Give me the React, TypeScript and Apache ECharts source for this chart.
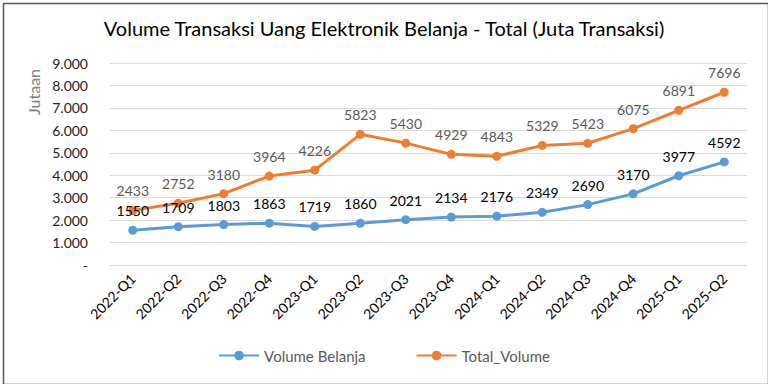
import React, { useEffect, useRef } from "react";
import * as echarts from "echarts";

const categories = ["2022-Q1","2022-Q2","2022-Q3","2022-Q4","2023-Q1","2023-Q2","2023-Q3","2023-Q4","2024-Q1","2024-Q2","2024-Q3","2024-Q4","2025-Q1","2025-Q2"];
const volumeBelanja = [1550,1709,1803,1863,1719,1860,2021,2134,2176,2349,2690,3170,3977,4592];
const totalVolume = [2433,2752,3180,3964,4226,5823,5430,4929,4843,5329,5423,6075,6891,7696];

const FONT = "Lato, 'Open Sans', sans-serif";

export default function App() {
  const ref = useRef<HTMLDivElement>(null);
  useEffect(() => {
    document.body.style.margin = "0";
    const chart = echarts.init(ref.current!, null, { renderer: "svg" });
    chart.setOption({
      animation: false,
      backgroundColor: "#fff",
      textStyle: { fontFamily: FONT },
      title: {
        text: "Volume Transaksi Uang Elektronik Belanja - Total (Juta Transaksi)",
        left: "center",
        top: 13,
        textStyle: { fontFamily: FONT, fontSize: 20, fontWeight: "normal", color: "#000" },
      },
      graphic: [
        { type: "rect", left: 1, top: 1, shape: { x: 1, y: 1, width: 765, height: 381 }, style: { fill: "none", stroke: "#555", lineWidth: 1.5 }, silent: true },
        {
          type: "text",
          x: 25,
          y: 92,
          rotation: Math.PI / 2,
          style: { text: "Jutaan", font: "16px Lato, sans-serif", fill: "#7f7f7f", align: "center", verticalAlign: "top" },
          silent: true,
        },
      ],
      legend: {
        bottom: 16,
        left: "center",
        itemGap: 50,
        itemWidth: 40,
        itemHeight: 12,
        textStyle: { fontFamily: FONT, fontSize: 15, color: "#595959" },
        data: ["Volume Belanja", "Total_Volume"],
      },
      grid: { left: 110, right: 21, top: 63, bottom: 119 },
      xAxis: {
        type: "category",
        data: categories,
        boundaryGap: true,
        axisLine: { show: false },
        axisTick: { show: false },
        axisLabel: { rotate: 45, fontFamily: FONT, fontSize: 14, color: "#000", margin: 11 },
      },
      yAxis: {
        type: "value",
        min: 0,
        max: 9000,
        interval: 1000,
        axisLine: { show: false },
        axisTick: { show: false },
        splitLine: { lineStyle: { color: "#d9d9d9", width: 1 } },
        axisLabel: {
          fontFamily: FONT,
          fontSize: 14,
          color: "#222",
          margin: 22,
          formatter: (v: number) => (v === 0 ? "-" : v.toLocaleString("de-DE")),
        },
      },
      series: [
        {
          name: "Volume Belanja",
          type: "line",
          data: volumeBelanja,
          color: "#5B9BD5",
          lineStyle: { width: 3 },
          symbol: "circle",
          symbolSize: 9,
          label: { show: true, position: "top", distance: 8, fontFamily: FONT, fontSize: 14, color: "#000" },
        },
        {
          name: "Total_Volume",
          type: "line",
          data: totalVolume,
          color: "#ED7D31",
          lineStyle: { width: 3 },
          symbol: "circle",
          symbolSize: 9,
          label: { show: true, position: "top", distance: 8, fontFamily: FONT, fontSize: 14, color: "#595959" },
        },
      ],
    });
    return () => chart.dispose();
  }, []);
  return <div ref={ref} style={{ width: 768, height: 384 }} />;
}
